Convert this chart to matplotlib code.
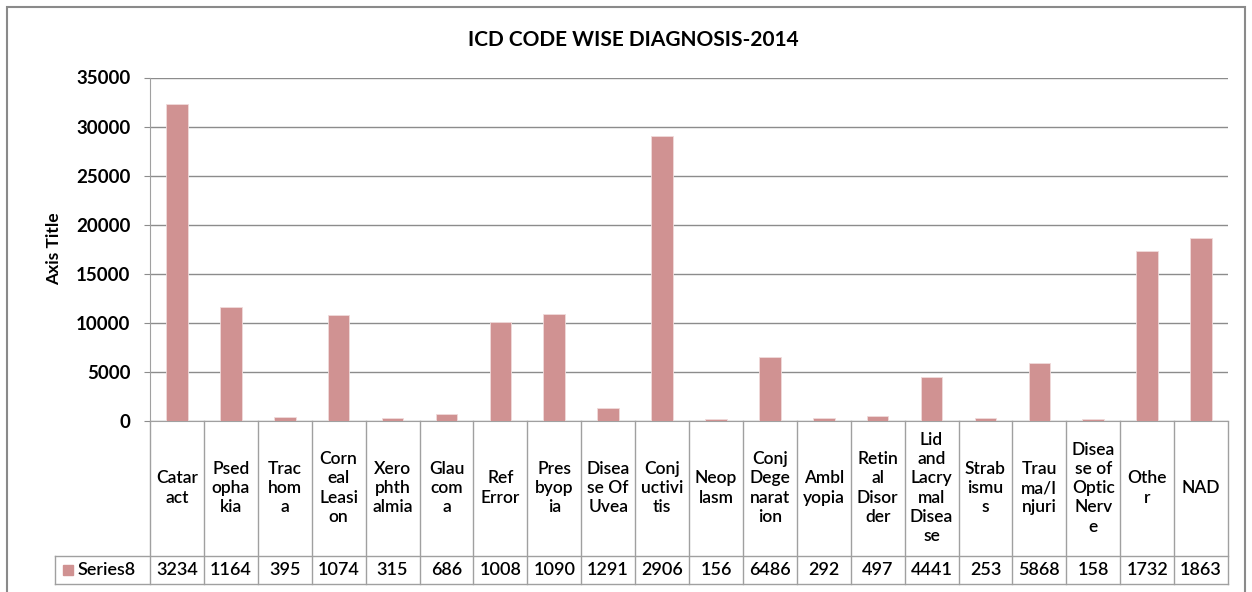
import matplotlib.pyplot as plt
import matplotlib.transforms as mtransforms
from matplotlib.patches import Rectangle
import numpy as np

plt.rcParams["font.family"] = ["Lato", "DejaVu Sans"]

# categories as they wrap inside the data table cells
categories = [
    "Catar\nact", "Psed\nopha\nkia", "Trac\nhom\na", "Corn\neal\nLeasi\non",
    "Xero\nphth\nalmia", "Glau\ncom\na", "Ref\nError", "Pres\nbyop\nia",
    "Disea\nse Of\nUvea", "Conj\nuctivi\ntis", "Neop\nlasm",
    "Conj\nDege\nnarat\nion", "Ambl\nyopia", "Retin\nal\nDisor\nder",
    "Lid\nand\nLacry\nmal\nDisea\nse", "Strab\nismu\ns", "Trau\nma/I\nnjuri",
    "Disea\nse of\nOptic\nNerv\ne", "Othe\nr", "NAD",
]
values = [32340, 11640, 395, 10740, 315, 686, 10080, 10900, 1291, 29060,
          156, 6486, 292, 497, 4441, 253, 5868, 158, 17320, 18630]
series_name = "Series8"
yticks = [0, 5000, 10000, 15000, 20000, 25000, 30000, 35000]

bar_color = "#D09292"
grid_color = "#8C8C8C"
line_color = "#A0A0A0"

fig = plt.figure(figsize=(12.52, 5.92), dpi=100)
W, H = 1252, 592

# plot area in pixels: left 150, right 1228, top 77.5, bottom 420.7
left, right, top, bottom = 150, 1228, 77.5, 420.7
ax = fig.add_axes([left / W, 1 - bottom / H, (right - left) / W, (bottom - top) / H])

x = np.arange(len(values))
ax.bar(x, values, width=0.4, color=bar_color, edgecolor="#F0DADA", linewidth=0.6, zorder=3)

ax.set_xlim(-0.5, len(values) - 0.5)
ax.set_ylim(0, 35000)
ax.set_yticks(yticks)
ax.set_yticklabels([str(t) for t in yticks], fontsize=13.5, fontweight="bold")
ax.set_xticks([])
ax.yaxis.grid(True, color=grid_color, linewidth=1.0, zorder=0)
ax.tick_params(axis="y", length=4, color=grid_color, pad=10)
for s in ["top", "right"]:
    ax.spines[s].set_visible(False)
ax.spines["left"].set_color(line_color)
ax.spines["bottom"].set_color(line_color)
ax.set_ylabel("Axis Title", fontsize=12.5, fontweight="bold", labelpad=10)

# data table below the plot
trans = mtransforms.blended_transform_factory(ax.transData, ax.transAxes)
ph = bottom - top
row1 = -(555.5 - bottom) / ph
row2 = -(584 - bottom) / ph
leg_left = (55 - left) / (right - left)
lkw = dict(color=line_color, linewidth=1.0, clip_on=False)

for b in np.arange(-0.5, len(values)):
    ax.plot([b, b], [0, row2], transform=trans, **lkw)
ax.plot([leg_left, 1], [row1, row1], transform=ax.transAxes, **lkw)
ax.plot([leg_left, 1], [row2, row2], transform=ax.transAxes, **lkw)
ax.plot([leg_left, leg_left], [row1, row2], transform=ax.transAxes, **lkw)

for i, (lab, v) in enumerate(zip(categories, values)):
    ax.text(i, row1 / 2, lab, transform=trans, ha="center", va="center",
            fontsize=12.5, fontweight="semibold", linespacing=1.25, color="black")
    ax.text(i, (row1 + row2) / 2, str(v)[:4], transform=trans, ha="center",
            va="center", fontsize=13, fontweight="semibold", color="black")

# legend key inside the table
key_x = (63 - left) / (right - left)
key_w = 10 / (right - left)
key_h = 10 / ph
ax.add_patch(Rectangle((key_x, (row1 + row2) / 2 - key_h / 2), key_w, key_h,
                       transform=ax.transAxes, color=bar_color, clip_on=False))
ax.text((78 - left) / (right - left), (row1 + row2) / 2, series_name,
        transform=ax.transAxes, ha="left", va="center", fontsize=13,
        fontweight="semibold")

fig.text(633 / W, 1 - 40 / H, "ICD CODE WISE DIAGNOSIS-2014", ha="center",
         va="center", fontsize=15, fontweight="bold")

# chart border
fig.patches.append(Rectangle((7 / W, -0.01), (1245 - 7) / W, 1 - 7 / H + 0.01,
                             transform=fig.transFigure, fill=False,
                             edgecolor="#8A8A8A", linewidth=1.5))

fig.savefig("out.png", dpi=100)
